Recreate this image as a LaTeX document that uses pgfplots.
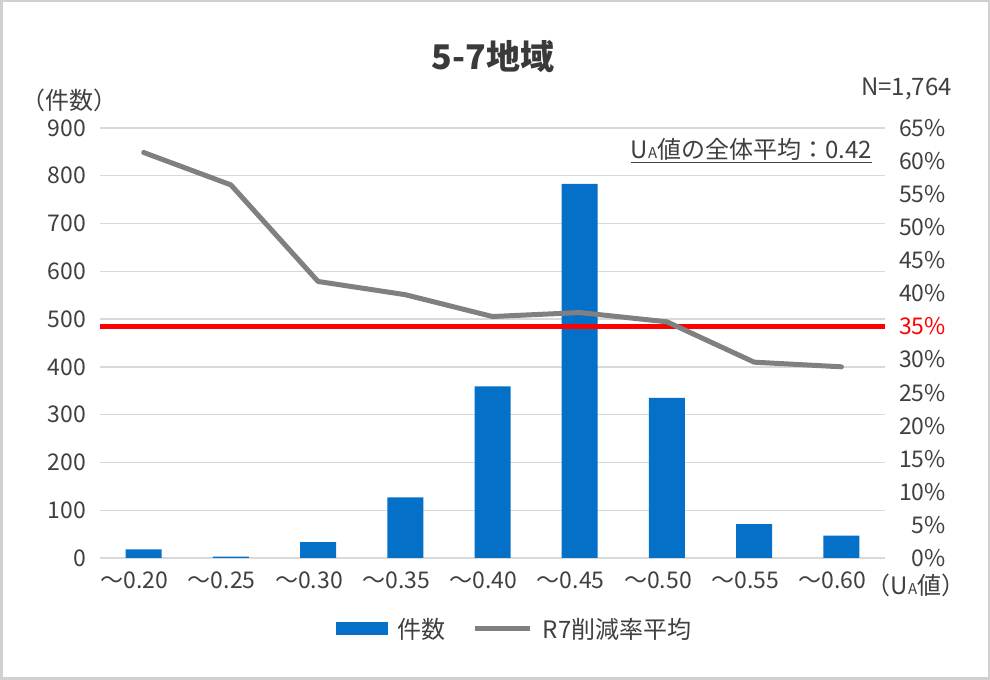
\documentclass[border=0pt]{standalone}
\usepackage{pgfplots}
\pgfplotsset{compat=1.18}
\usepackage{fontspec}
\setmainfont{Noto Sans CJK JP}
\definecolor{barblue}{HTML}{0570C8}
\definecolor{linegrey}{HTML}{808080}
\definecolor{gridgrey}{HTML}{D9D9D9}
\definecolor{txt}{HTML}{404040}
\definecolor{framec}{HTML}{D0D0D0}
\newcommand{\fs}{\fontsize{23bp}{23bp}\selectfont}
\newcommand{\fsb}{\fontsize{24bp}{24bp}\selectfont}
\begin{document}
\begin{tikzpicture}[x=1bp,y=1bp]
\useasboundingbox (0,0) rectangle (990,680);
\fill[white] (0,0) rectangle (990,680);
\draw[framec, line width=2.5bp] (1.25,1.25) rectangle (988.75,678.75);

\begin{axis}[
  at={(100bp,122bp)}, anchor=south west,
  width=785bp, height=430bp, scale only axis,
  xmin=-0.5, xmax=8.5, ymin=0, ymax=900,
  xtick={0,1,2,3,4,5,6,7,8},
  xticklabels={〜0.20,〜0.25,〜0.30,〜0.35,〜0.40,〜0.45,〜0.50,〜0.55,〜0.60},
  ytick={0,100,200,300,400,500,600,700,800,900},
  ymajorgrids, grid style={gridgrey, line width=1.3bp},
  axis line style={draw=none},
  major tick length=0pt, tick style={draw=none},
  /pgf/number format/assume math mode=true,
  ticklabel style={font=\fs, text=txt, inner sep=0pt},
  yticklabel style={xshift=-14bp},
  xticklabel style={yshift=-13.7bp, xshift=-9bp},
]
\addplot[ybar, bar width=36bp, bar shift=0pt, fill=barblue, draw=none] coordinates {
(0,18) (1,3) (2,33) (3,127) (4,359) (5,783) (6,335) (7,71) (8,47)
};
\end{axis}

\begin{axis}[
  at={(100bp,122bp)}, anchor=south west,
  width=785bp, height=430bp, scale only axis,
  xmin=-0.5, xmax=8.5, ymin=0, ymax=65,
  xtick=\empty,
  ytick={0,5,10,15,20,25,30,35,40,45,50,55,60,65},
  yticklabels={0\%,5\%,10\%,15\%,20\%,25\%,30\%,\textcolor{red}{35\%},40\%,45\%,50\%,55\%,60\%,65\%},
  yticklabel pos=right,
  axis line style={draw=none},
  major tick length=0pt, tick style={draw=none},
  ticklabel style={font=\fs, text=txt, inner sep=0pt},
  yticklabel style={anchor=east, xshift=61bp},
  legend style={at={(0.3006,-0.165)}, anchor=west, draw=none, fill=none,
    inner sep=0pt, outer sep=0pt, font=\fsb, text=txt,
    nodes={inner sep=0pt},
    /tikz/every odd column/.style={column sep=10bp},
    /tikz/every even column/.style={column sep=27bp}},
  legend columns=2,
]
\addplot[red, line width=5.5bp, forget plot] coordinates {(-0.5,35) (8.5,35)};
\addplot[linegrey, line width=5bp, line join=round, line cap=round, forget plot] coordinates {
(0,61.3) (1,56.4) (2,41.8) (3,39.8) (4,36.5) (5,37.1) (6,35.7) (7,29.6) (8,28.9)
};
\addlegendimage{legend image code/.code={\fill[barblue,draw=none] (0bp,-6.5bp) rectangle (52bp,6.5bp);}}
\addlegendentry{件数}
\addlegendimage{legend image code/.code={\draw[linegrey, line width=5bp, line cap=butt] (0bp,0bp) -- (55bp,0bp);}}
\addlegendentry{R7削減率平均}
\end{axis}

\node[font=\fontsize{34bp}{34bp}\selectfont\bfseries, text=txt!90!black] at (493,623) {5-7地域};
\node[font=\fsb, text=txt, inner sep=0pt] at (70,580) {（件数）};
\node[font=\fsb, text=txt, inner sep=0pt, anchor=east] at (952,591) {N=1,764};
\node[font=\fsb, text=txt, inner sep=0pt, anchor=base east] at (872,521) {\underline{U{\fontsize{15bp}{15bp}\selectfont A}値の全体平均：0.42}};
\node[font=\fsb, text=txt, inner sep=0pt, anchor=base] at (916,85) {（U{\fontsize{15bp}{15bp}\selectfont A}値）};
\end{tikzpicture}
\end{document}
